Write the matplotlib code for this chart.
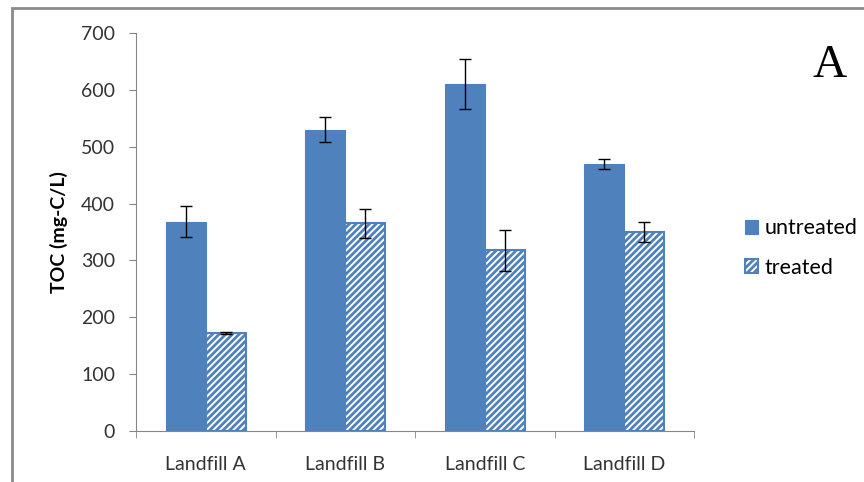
import matplotlib.pyplot as plt
import matplotlib.patches as mpatches
import numpy as np

# data
categories = ['Landfill A', 'Landfill B', 'Landfill C', 'Landfill D']
untreated = [368, 530, 610, 470]
untreated_err = [27, 22, 44, 9]
treated = [172, 365, 318, 350]
treated_err = [2, 25, 36, 18]

blue = '#4F81BD'
plt.rcParams['font.family'] = ['Lato', 'DejaVu Sans']
plt.rcParams['hatch.linewidth'] = 2.0
plt.rcParams['hatch.color'] = blue

fig = plt.figure(figsize=(8.64, 4.82), dpi=100)
ax = fig.add_axes([136/864, 1 - 431/482, 558/864, 398/482])

x = np.arange(len(categories))
w = 0.287
ax.bar(x - w/2, untreated, w, color=blue, edgecolor=blue, linewidth=0.8,
       yerr=untreated_err, capsize=4, error_kw=dict(ecolor='black', elinewidth=1, capthick=1),
       label='untreated', zorder=2)
ax.bar(x + w/2, treated, w, color='white', edgecolor=blue, linewidth=1.5, hatch='/////',
       yerr=treated_err, capsize=4, error_kw=dict(ecolor='black', elinewidth=1, capthick=1),
       label='treated', zorder=2)

ax.set_xlim(-0.5, 3.5)
ax.set_ylim(0, 700)
ax.set_yticks(range(0, 701, 100))
ax.set_xticks(x)
ax.set_xticklabels(categories, fontsize=14, color='#333333')
ax.set_xticks(np.arange(-0.5, 3.6, 1), minor=True)
ax.tick_params(axis='x', which='major', length=0, pad=18)
ax.tick_params(axis='x', which='minor', length=5, color='#868686')
ax.tick_params(axis='y', labelsize=14, labelcolor='#333333', length=5, color='#868686', pad=10)
ax.set_ylabel('TOC (mg-C/L)', fontsize=14, fontweight='bold')
ax.yaxis.set_label_coords(-(136 - 68) / 558, 0.5)

for s in ['top', 'right']:
    ax.spines[s].set_visible(False)
for s in ['left', 'bottom']:
    ax.spines[s].set_color('#868686')

leg = fig.legend(loc='upper left', bbox_to_anchor=(726/864, 1 - 199/482), frameon=False,
                 fontsize=15.5, handlelength=0.6, handleheight=0.6, handletextpad=0.3,
                 labelspacing=0.9)

fig.text(830/864, 1 - 66/482, 'A', fontsize=34, family='Liberation Serif',
         ha='center', va='center')

border = mpatches.Rectangle((12/864, -0.05), 1.0, 1 - 8/482 + 0.05,
                            transform=fig.transFigure, fill=False,
                            edgecolor='#8a8a8a', linewidth=2)
fig.add_artist(border)

fig.savefig('out.png', dpi=100)
